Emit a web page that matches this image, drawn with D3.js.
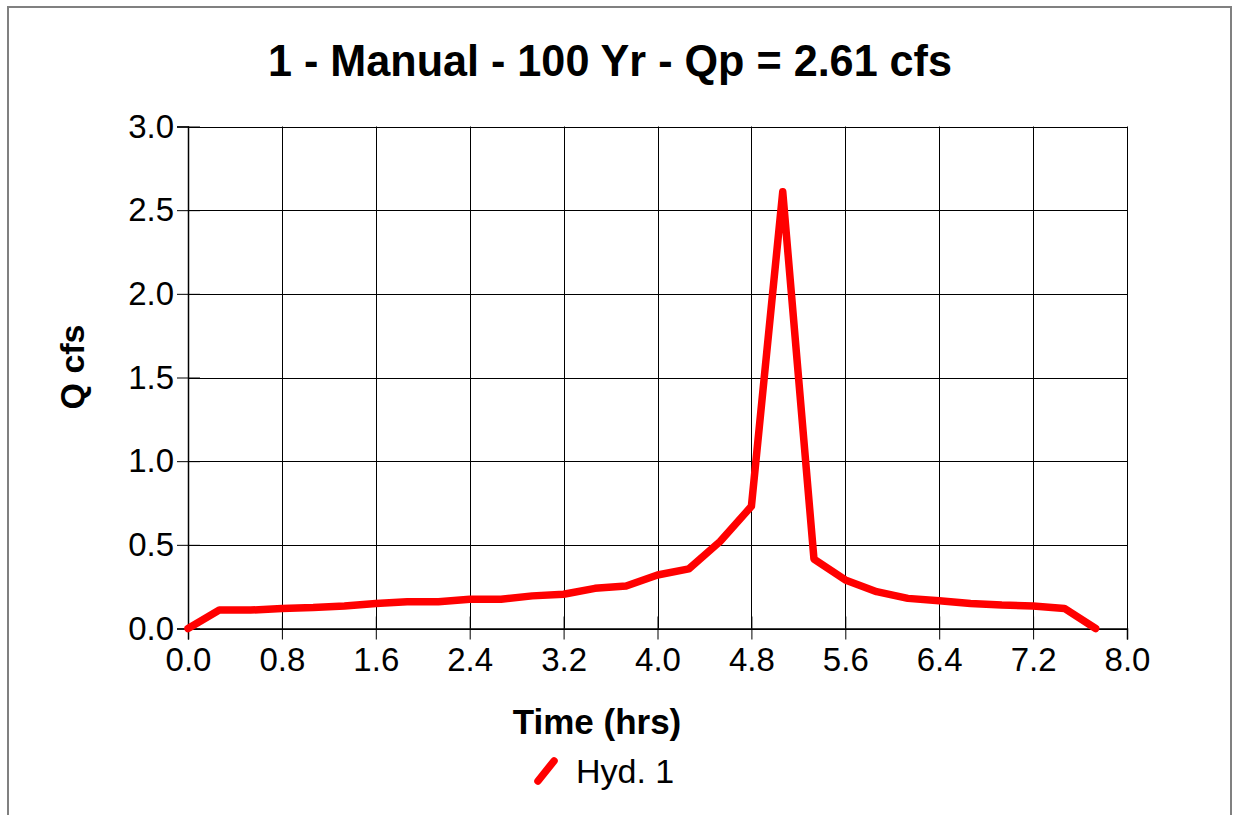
<!DOCTYPE html>
<html>
<head>
<meta charset="utf-8">
<script src="https://cdn.jsdelivr.net/npm/d3@7"></script>
<style>
  html, body { margin: 0; padding: 0; background: #fff; }
  svg { display: block; font-family: "Liberation Sans", Arial, sans-serif; }
</style>
</head>
<body>
<svg id="chart" width="1233" height="815"></svg>
<script>
// Hydrograph ordinates: time step of 16 minutes (0.2667 hrs)
const timeHrs = [0.0, 0.267, 0.533, 0.8, 1.067, 1.333, 1.6, 1.867, 2.133, 2.4,
                 2.667, 2.933, 3.2, 3.467, 3.733, 4.0, 4.267, 4.533, 4.8, 5.067,
                 5.333, 5.6, 5.867, 6.133, 6.4, 6.667, 6.933, 7.2, 7.467, 7.733];
const flowCfs = [0.0, 0.11, 0.11, 0.12, 0.125, 0.135, 0.15, 0.16, 0.16, 0.175,
                 0.175, 0.195, 0.205, 0.24, 0.254, 0.32, 0.356, 0.52, 0.73, 2.61,
                 0.415, 0.29, 0.22, 0.18, 0.166, 0.15, 0.14, 0.135, 0.12, 0.0];
const xTicks = [0.0, 0.8, 1.6, 2.4, 3.2, 4.0, 4.8, 5.6, 6.4, 7.2, 8.0];
const yTicks = [0.0, 0.5, 1.0, 1.5, 2.0, 2.5, 3.0];
const titleText = "1 - Manual - 100 Yr - Qp = 2.61 cfs";
const xTitle = "Time (hrs)";
const yTitle = "Q cfs";
const seriesName = "Hyd. 1";

(function () {
  const svg = d3.select("#chart");
  const lineColor = "#ff0000";

  // outer frame
  svg.append("rect")
    .attr("x", 8).attr("y", 7)
    .attr("width", 1223).attr("height", 840)
    .attr("fill", "none").attr("stroke", "#808080").attr("stroke-width", 2);

  const plotL = 188, plotR = 1127, plotT = 126.5, plotB = 628.5;
  const x = d3.scaleLinear().domain([0, 8]).range([plotL, plotR]);
  const y = d3.scaleLinear().domain([0, 3]).range([plotB, plotT]);

  // grid
  const grid = svg.append("g");
  grid.selectAll("line.v").data(xTicks).join("line")
    .attr("class", "v")
    .attr("x1", d => Math.round(x(d)) + 0.5).attr("x2", d => Math.round(x(d)) + 0.5)
    .attr("y1", plotT).attr("y2", plotB)
    .attr("stroke", "#000").attr("stroke-width", 1);
  grid.selectAll("line.h").data(yTicks).join("line")
    .attr("class", "h")
    .attr("x1", plotL).attr("x2", plotR)
    .attr("y1", d => Math.round(y(d)) + 0.5).attr("y2", d => Math.round(y(d)) + 0.5)
    .attr("stroke", "#000").attr("stroke-width", 1);

  // axes with ticks crossing the axis line
  const fmt = d3.format(".1f");
  const yAxis = svg.append("g")
    .attr("transform", `translate(${plotL},0)`)
    .call(d3.axisLeft(y).tickValues(yTicks).tickFormat(fmt).tickSize(11).tickPadding(3));
  yAxis.select(".domain").attr("stroke", "#000").attr("stroke-width", 1.5);
  yAxis.selectAll(".tick line").attr("x1", 12).attr("stroke", "#000");
  yAxis.selectAll(".tick text")
    .attr("font-size", 33).attr("fill", "#000")
    .attr("font-family", "Liberation Sans, Arial, sans-serif");

  const xAxis = svg.append("g")
    .attr("transform", `translate(0,${plotB})`)
    .call(d3.axisBottom(x).tickValues(xTicks).tickFormat(fmt).tickSize(11).tickPadding(8));
  xAxis.select(".domain").attr("stroke", "#000").attr("stroke-width", 1.5);
  xAxis.selectAll(".tick line").attr("y1", -12).attr("stroke", "#000");
  xAxis.selectAll(".tick text")
    .attr("font-size", 33).attr("fill", "#000")
    .attr("font-family", "Liberation Sans, Arial, sans-serif");

  // hydrograph line
  const pts = timeHrs.map((t, i) => [t, flowCfs[i]]);
  svg.append("path")
    .datum(pts)
    .attr("fill", "none")
    .attr("stroke", lineColor)
    .attr("stroke-width", 7.5)
    .attr("stroke-linejoin", "round")
    .attr("stroke-linecap", "round")
    .attr("d", d3.line().x(d => x(d[0])).y(d => y(d[1])));

  // titles
  svg.append("text")
    .attr("x", 610).attr("y", 76)
    .attr("text-anchor", "middle")
    .attr("font-size", 45).attr("font-weight", "bold")
    .attr("textLength", 684).attr("lengthAdjust", "spacingAndGlyphs")
    .text(titleText);

  svg.append("text")
    .attr("x", 597).attr("y", 734)
    .attr("text-anchor", "middle")
    .attr("font-size", 35).attr("font-weight", "bold")
    .text(xTitle);

  svg.append("text")
    .attr("transform", "translate(84,367) rotate(-90)")
    .attr("text-anchor", "middle")
    .attr("font-size", 34).attr("font-weight", "bold")
    .text(yTitle);

  // legend
  svg.append("line")
    .attr("x1", 538).attr("y1", 781).attr("x2", 554).attr("y2", 761)
    .attr("stroke", lineColor).attr("stroke-width", 7.5)
    .attr("stroke-linecap", "round");
  svg.append("text")
    .attr("x", 576).attr("y", 783)
    .attr("font-size", 34)
    .text(seriesName);
})();
</script>
</body>
</html>
